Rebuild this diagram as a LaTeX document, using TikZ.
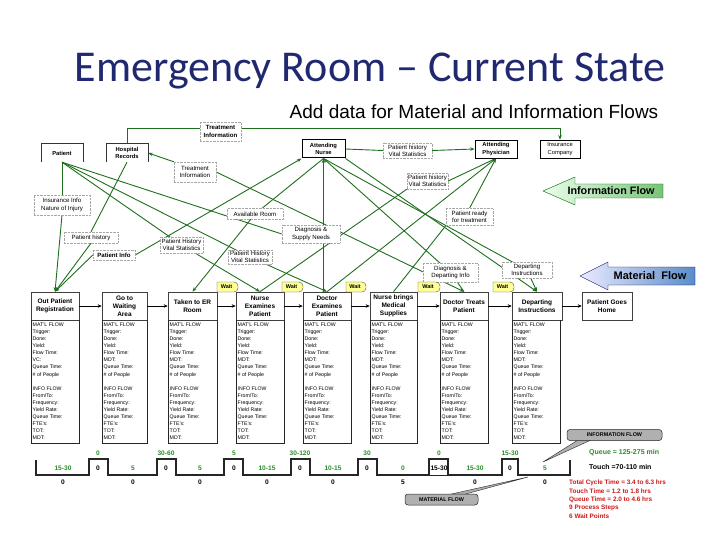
\documentclass[tikz,border=0pt]{standalone}
\usepackage{fontspec}
\setmainfont{Liberation Sans}
\newfontfamily\titlefont{Carlito}
\usetikzlibrary{arrows.meta,backgrounds}
\definecolor{ttl}{RGB}{32,40,112}
\definecolor{iline}{RGB}{30,110,30}
\definecolor{tgreen}{RGB}{40,140,40}
\definecolor{tred}{RGB}{205,25,25}
\definecolor{waity}{RGB}{255,255,150}
\newcommand{\mydbox}[4]{%
  \draw[dboxline] (#2,320) -- (#2,443) -- (#3,443) -- (#3,320);
  \node[dtext,anchor=north west] (#1) at (#2+1.5,322.5) {MAT'L FLOW\\Trigger:\\Done:\\Yield:\\Flow Time:\\#4\\Queue Time:\\\# of People\\[7.1pt]INFO FLOW\\From/To:\\Frequency:\\Yield Rate:\\Queue Time:\\FTE's:\\TOT:\\MDT:};
}
\newcommand{\mywait}[2]{%
  \draw[fill=waity,draw=black!70,line width=0.4pt] (#1,292) -- (#1,282) [rounded corners=4pt] -- (#2,282) -- (#2,292) [sharp corners] -- cycle;
  \node[font=\bfseries\fontsize{5.5}{6}\selectfont] at ({(#1+#2)/2-1},287) {Wait};
}
\begin{document}
\begin{tikzpicture}[x=1pt,y=-1pt,
  infobox/.style={draw=gray!70, densely dotted, fill=white, align=center, inner sep=0.5pt, font=\fontsize{6.1}{7.3}\selectfont},
  openbox/.style={align=center, inner sep=0.5pt, font=\bfseries\fontsize{5.8}{7.3}\selectfont, minimum width=42, minimum height=18},
  solidbox/.style={draw=black, line width=0.7pt, fill=white, align=center, inner sep=0.5pt, font=\bfseries\fontsize{5.8}{7.3}\selectfont, minimum height=18},
  procbox/.style={draw=gray!50!black, line width=0.6pt, fill=white, align=center, inner sep=0.5pt, font=\bfseries\fontsize{6.5}{7.8}\selectfont, minimum height=28},
  dboxline/.style={draw=black!85, line width=0.6pt},
  dtext/.style={font=\fontsize{5.2}{7.1}\selectfont, align=left, inner sep=0pt},
  ilin/.style={draw=iline, line width=0.9pt},
  iarr/.style={draw=iline, line width=0.9pt, -{Stealth[length=4.5pt,width=3.5pt]}},
  parr/.style={draw=black, line width=0.6pt, -{Stealth[length=4pt,width=3.5pt]}},
  tlg/.style={font=\bfseries\fontsize{6.6}{7}\selectfont, text=tgreen, inner sep=0.5pt},
  tlb/.style={font=\bfseries\fontsize{6.6}{7}\selectfont, text=black, inner sep=0.5pt},
  callbox/.style={fill=gray!62, draw=gray!30!black, line width=0.5pt, rounded corners=3pt, font=\bfseries\fontsize{5.4}{6}\selectfont, inner sep=1pt, minimum height=11}
]
\useasboundingbox (0,0) rectangle (720,540);

% titles
\node[font=\titlefont\fontsize{44}{48}\selectfont, text=ttl] (title) at (370,71) {Emergency Room – Current State};
\node[font=\fontsize{19}{21}\selectfont] (sub) at (474,112) {Add data for Material and Information Flows};

% information boxes
\coordinate (tl) at (0,128);
\node[infobox, minimum width=41, minimum height=19] (ti1) at (220.5,131.5) {\textbf{Treatment}\\\textbf{Information}};
\node[openbox] (pat) at (62,153) {Patient};
\node[openbox] (hr) at (127,153) {Hospital\\Records};
\node[infobox, minimum width=42, minimum height=20] (ti2) at (195,172) {Treatment\\Information};
\node[solidbox, minimum width=43, line width=1pt] (an) at (323.5,149) {Attending\\Nurse};
\node[infobox, minimum width=49, minimum height=15] (vs1) at (407.5,150.5) {Patient history\\Vital Statistics};
\node[solidbox, minimum width=42] (ap) at (496,149) {Attending\\Physician};
\node[solidbox, minimum width=40, line width=0.5pt, font=\fontsize{5.8}{7.3}\selectfont] (ic) at (560,149) {Insurance\\Company};
\node[infobox, minimum width=41, minimum height=16] (vs2) at (427.5,181) {Patient history\\Vital Statistics};
\node[infobox, minimum width=47, minimum height=17] (prt) at (469.5,217) {Patient ready\\for treatment};
\node[infobox, minimum width=56, minimum height=20] (ii) at (62,205) {Insurance Info\\Nature of Injury};
\node[infobox, minimum width=56, minimum height=11] (ar) at (255,214) {Available Room};
\node[infobox, minimum width=58, minimum height=18] (dsn) at (311,234) {Diagnosis \&\\Supply Needs};
\node[infobox, minimum width=54, minimum height=11] (ph) at (91,237.5) {Patient history};
\node[infobox, minimum width=42, minimum height=10, font=\bfseries\fontsize{6.1}{7.3}\selectfont] (pi) at (114,255) {Patient Info};
\node[infobox, minimum width=43, minimum height=16] (vsa) at (181.5,245) {Patient History\\Vital Statistics};
\node[infobox, minimum width=44, minimum height=14] (vs3) at (250,257) {Patient History\\Vital Statistics};
\node[infobox, minimum width=55, minimum height=19] (dd) at (450.5,272.5) {Diagnosis \&\\Departing Info};
\node[infobox, minimum width=50, minimum height=16] (di) at (527,270) {Departing\\Instructions};

\draw[black!80, line width=0.6pt] (pat.south west) |- (pat.north east) -- (pat.south east);
\draw[black!80, line width=0.6pt] (hr.south west) |- (hr.north east) -- (hr.south east);

% big flow arrows
\shade[left color=green!8, right color={rgb,255:red,120;green,195;blue,120}, draw=green!40!black, line width=0.4pt]
  (663,184) -- (575,184) -- (575,177) -- (543,191) -- (575,205) -- (575,198) -- (663,198) -- cycle;
\node[font=\bfseries\fontsize{10.8}{12}\selectfont] (ift) at (611,191) {Information Flow};
\shade[left color=blue!8, right color={rgb,255:red,90;green,140;blue,200}, draw=blue!40!black, line width=0.4pt]
  (695,267) -- (608,267) -- (608,262) -- (580,276) -- (608,290) -- (608,285) -- (695,285) -- cycle;
\node[font=\bfseries\fontsize{11}{12}\selectfont] (mft) at (650,276) {Material\ \ Flow};

% process boxes
\node[procbox, minimum width=48] (opr) at (55,306) {Out Patient\\Registration};
\node[procbox, minimum width=45] (gwa) at (124.5,306) {Go to\\Waiting\\Area};
\node[procbox, minimum width=49] (ter) at (192.5,306) {Taken to ER\\Room};
\node[procbox, minimum width=48] (nep) at (260,306) {Nurse\\Examines\\Patient};
\node[procbox, minimum width=48] (dep) at (327,306) {Doctor\\Examines\\Patient};
\node[procbox, minimum width=47] (nbm) at (393.5,306) {Nurse brings\\Medical\\Supplies};
\node[procbox, minimum width=48] (dtp) at (464,306) {Doctor Treats\\Patient};
\node[procbox, minimum width=50] (dpi) at (537,306) {Departing\\Instructions};
\node[procbox, minimum width=50] (pgh) at (607,306) {Patient Goes\\Home};

\draw[parr] (opr) -- (gwa);
\draw[parr] (gwa) -- (ter);
\draw[parr] (ter) -- (nep);
\draw[parr] (nep) -- (dep);
\draw[parr] (dep) -- (nbm);
\draw[parr] (nbm) -- (dtp);
\draw[parr] (dtp) -- (dpi);
\draw[parr] (dpi) -- (pgh);

\mywait{217}{238}
\mywait{282}{303}
\mywait{346}{366}
\mywait{418}{440}
\mywait{493}{514}

% data boxes
\mydbox{db1}{31}{79}{VC:}
\mydbox{db2}{102}{147}{MDT:}
\mydbox{db3}{168}{217}{MDT:}
\mydbox{db4}{236}{284}{MDT:}
\mydbox{db5}{303}{351}{MDT:}
\mydbox{db6}{370}{417}{MDT:}
\mydbox{db7}{440}{488}{MDT:}
\mydbox{db8}{512}{560}{MDT:}

% information connectors
\begin{pgfonlayer}{background}
\draw[ilin] (hr.north) |- (ti1.west |- tl);
\draw[iarr] (ti1.east |- tl) -| (ic.north);
\draw[ilin] (an.east) -- (vs1.west);
\draw[iarr] (vs1.east) -- (ap.west);
\draw[iarr] (ti2.north west) -- (hr.east);
\draw[iarr] (ti2.east) -- (dtp.north);
\draw[ilin] (pat.south) -- (ii.north);
\draw[iarr] (ii.south) -- (opr.north);
\draw[ilin] (hr.south) -- (ph.north);
\draw[iarr] (ph.south) -- (opr.north);
\draw[iarr] (pi.west) -- (opr.north);
\draw[iarr] (pi.east) -- (an.south west);
\draw[ilin] (an.south) -- (ar.center);
\draw[iarr] (ar.center) -- (ter.north);
\draw[ilin] (pat.south) -- (vsa.center);
\draw[iarr] (vsa.center) -- (nep.north);
\draw[ilin] (pat.south) -- (vs3.center);
\draw[iarr] (vs3.center) -- (dep.north);
\draw[ilin] (pat.south) -- (dsn.west);
\draw[iarr] (an.south |- dep.north) -- (an.south);
\draw[iarr] (vs2.east) -- (ap.south);
\draw[ilin] (nep.north) -- (vs2.south west);
\draw[iarr] (prt.north) -- (ap.south);
\draw[ilin] (nbm.north) -- (prt.south west);
\draw[ilin] (ap.south) -- (dep.north);
\draw[iarr] (dd.center) -- (an.south);
\draw[ilin] (dtp.north) -- (dd.center);
\draw[ilin] (an.south) -- (di.center);
\draw[iarr] (di.center) -- (dpi.north);
\draw[iarr] (an.south east) -- (dpi.north);
% callout wedges
\fill[gray!62, draw=gray!30!black, line width=0.4pt] (578,440) -- (543,462) -- (591,440) -- cycle;
\fill[gray!62, draw=gray!30!black, line width=0.4pt] (447,495) -- (528,477) -- (462,495) -- cycle;
\end{pgfonlayer}

% timeline
\draw[black!85, line width=1.1pt] (36,460) -- (36,475) -- (89,475) -- (89,459) -- (108,459) -- (108,475)
 -- (157,475) -- (157,459) -- (176,459) -- (176,475) -- (224,475) -- (224,459) -- (243,459) -- (243,475)
 -- (291,475) -- (291,459) -- (310,459) -- (310,475) -- (358,475) -- (358,459) -- (377,459) -- (377,475)
 -- (429,475) -- (429,459) -- (448,459) -- (448,475) -- (502,475) -- (502,459) -- (518,459) -- (518,475)
 -- (570,475) -- (570,460);
\draw[black!85, line width=0.8pt] (429,475) -- (448,475);
\foreach \x/\a/\b in {98/0/0,166/30-60/0,234/5/0,300/30-120/0,367/30/0,439/0/15-30,510/15-30/0}{
  \node[tlg] at (\x,453) {\a};
  \node[tlb] at (\x,468) {\b};
}
\foreach \x/\a/\b in {63/15-30/0,133/5/0,200/5/0,267/10-15/0,333/10-15/0,403/0/5,475/15-30/0,545/5/0}{
  \node[tlg] at (\x,468) {\a};
  \node[tlb] at (\x,482) {\b};
}
\node[font=\bfseries\fontsize{7}{15}\selectfont, anchor=north west, align=left, inner sep=0pt] (summ) at (589,449)
 {\textcolor{tgreen}{Queue = 125-275 min}\\Touch =70-110 min};
\node[font=\bfseries\fontsize{6.4}{8.3}\selectfont, text=tred, anchor=north west, align=left, inner sep=0pt] (stats) at (569,480)
 {Total Cycle Time = 3.4 to 6.3 hrs\\Touch Time = 1.2 to 1.8 hrs\\Queue Time = 2.0 to 4.6 hrs\\9 Process Steps\\6 Wait Points};

% callouts
\node[callbox, minimum width=95] (ifc) at (614.5,435) {INFORMATION FLOW};
\node[callbox, minimum width=73] (mfc) at (441.5,499.5) {MATERIAL FLOW};
\end{tikzpicture}
\end{document}
